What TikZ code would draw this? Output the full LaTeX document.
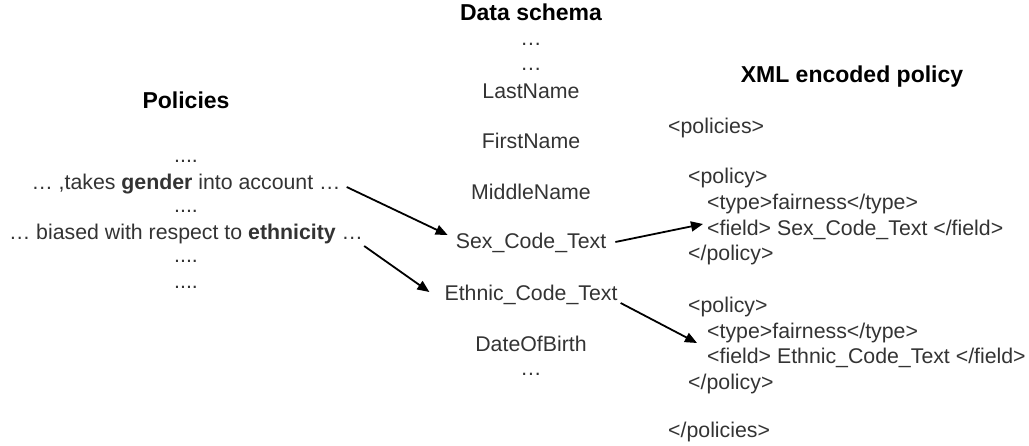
\documentclass[tikz,border=0pt]{standalone}
\usepackage{fontspec}
\setmainfont{Liberation Sans}
\usetikzlibrary{arrows.meta,calc}
\begin{document}
\begin{tikzpicture}[x=1pt,y=-1pt,
  txt/.style={inner sep=0pt,anchor=base,text=black!80,font=\fontsize{21.3}{25}\selectfont},
  ltxt/.style={txt,anchor=base west},
  ttl/.style={inner sep=0pt,anchor=base,text=black,font=\fontsize{23}{27}\selectfont\bfseries},
  arr/.style={line width=1.8pt,-{Triangle[length=12pt,width=10pt]}}]
\useasboundingbox (0,0) rectangle (1029,446);
% Policies column
\node[ttl] (ptitle) at (186,109) {Policies};
\node[txt] (p1) at (186,163) {....};
\node[txt] (g) at (186,190) {… ,takes \textbf{gender} into account …};
\node[txt] (p2) at (186,213) {....};
\node[txt] (b) at (186,240) {… biased with respect to \textbf{ethnicity} …};
\node[txt] (p3) at (186,263) {....};
\node[txt] (p4) at (186,289) {....};
% Data schema column
\node[ttl] (dtitle) at (531,21) {Data schema};
\node[txt] (d1) at (531,46) {…};
\node[txt] (d2) at (531,71) {…};
\node[txt] (ln) at (531,99) {LastName};
\node[txt] (fn) at (531,149) {FirstName};
\node[txt] (mn) at (531,200) {MiddleName};
\node[txt] (sex) at (531,249) {Sex\_Code\_Text};
\node[txt] (eth) at (531,301) {Ethnic\_Code\_Text};
\node[txt] (dob) at (531,352) {DateOfBirth};
\node[txt] (d3) at (531,376) {…};
% XML column
\node[ttl] (xtitle) at (852,83) {XML encoded policy};
\node[ltxt] (x0) at (668,134) {<policies>};
\node[ltxt] (x1) at (688,184) {<policy>};
\node[ltxt] (x2) at (707,210) {<type>fairness</type>};
\node[ltxt] (f1) at (707,236) {<field> Sex\_Code\_Text </field>};
\node[ltxt] (x3) at (688,261) {</policy>};
\node[ltxt] (x4) at (688,313) {<policy>};
\node[ltxt] (x5) at (707,339) {<type>fairness</type>};
\node[ltxt] (f2) at (707,364) {<field> Ethnic\_Code\_Text </field>};
\node[ltxt] (x6) at (688,390) {</policy>};
\node[ltxt] (x7) at (668,438) {</policies>};
% arrows
\draw[arr] ($(g.base east)+(6,-3)$) -- ($(sex.base west)+(-8,-14)$);
\draw[arr] ($(b.base east)+(1,6)$) -- ($(eth.base west)+(-15,-9)$);
\draw[arr] ($(sex.base east)+(9,-7)$) -- ($(f1.base west)+(-4,-12)$);
\draw[arr] ($(eth.base east)+(3,2)$) -- ($(f2.base west)+(-10,-21)$);
\end{tikzpicture}
\end{document}
